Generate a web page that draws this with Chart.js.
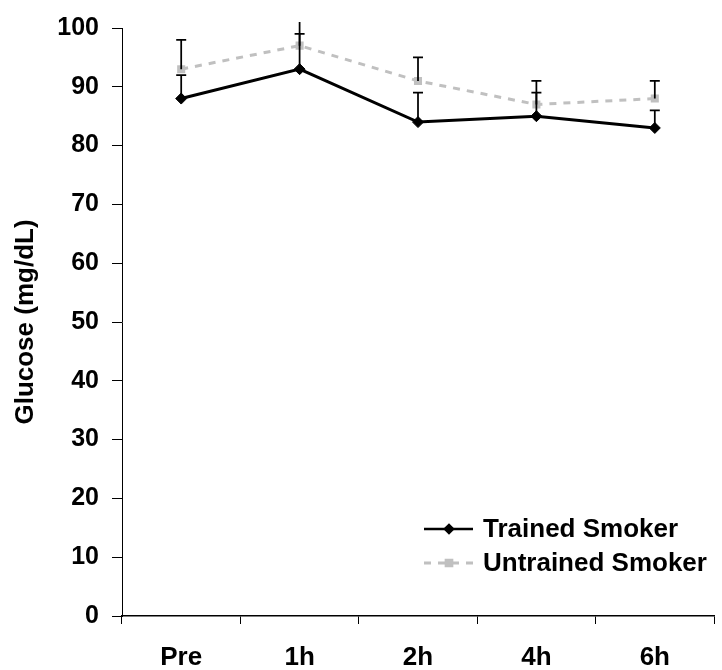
<!DOCTYPE html>
<html lang="en">
<head>
  <meta charset="UTF-8" />
  <title>Glucose</title>
  <script src="https://cdn.jsdelivr.net/npm/chart.js"></script>
  <style>
    body { margin: 0; background: #fff; }
  </style>
</head>
<body>
  <canvas id="chart" width="722" height="670"></canvas>

  <script>
    const labels = ['Pre', '1h', '2h', '4h', '6h'];
    const trained = [88, 93, 84, 85, 83];
    const untrained = [93, 97, 91, 87, 88];
    // upper error bars only
    const trainedErr = [4, 6, 5, 4, 3];
    const untrainedErr = [5, 5, 4, 4, 3];
    const yTicks = [0, 10, 20, 30, 40, 50, 60, 70, 80, 90, 100];

    const fontFamily = '"Liberation Sans", Arial, sans-serif';

    const errorBars = {
      id: 'errorBars',
      afterDatasetsDraw(chart) {
        const ctx = chart.ctx;
        const x = chart.scales.x;
        const y = chart.scales.y;
        const area = chart.chartArea;
        const errs = [trainedErr, untrainedErr];
        ctx.save();
        ctx.beginPath();
        ctx.rect(area.left, area.top - 6, area.right - area.left, area.bottom - area.top + 6);
        ctx.clip();
        ctx.strokeStyle = '#000';
        ctx.lineWidth = 1.75;
        chart.data.datasets.forEach((ds, i) => {
          ds.data.forEach((v, j) => {
            const px = x.getPixelForValue(j);
            const y0 = y.getPixelForValue(v);
            const y1 = y.getPixelForValue(v + errs[i][j]);
            ctx.beginPath();
            ctx.moveTo(px, y0);
            ctx.lineTo(px, y1);
            ctx.moveTo(px - 5, y1);
            ctx.lineTo(px + 5, y1);
            ctx.stroke();
          });
        });
        ctx.restore();
      }
    };

    const innerLegend = {
      id: 'innerLegend',
      afterDraw(chart) {
        const ctx = chart.ctx;
        const left = 424, lineLen = 49, textX = 483;
        const rows = [529, 563];
        ctx.save();
        chart.data.datasets.forEach((ds, i) => {
          const yy = rows[i];
          ctx.strokeStyle = ds.borderColor;
          ctx.lineWidth = i === 0 ? 2.5 : 3;
          ctx.setLineDash(ds.borderDash || []);
          ctx.beginPath();
          ctx.moveTo(left, yy);
          ctx.lineTo(left + lineLen, yy);
          ctx.stroke();
          ctx.setLineDash([]);
          ctx.fillStyle = ds.pointBackgroundColor;
          ctx.strokeStyle = ds.pointBorderColor;
          Chart.helpers.drawPoint(ctx, {
            pointStyle: ds.pointStyle,
            radius: 4,
            borderWidth: 1
          }, left + 25, yy);
          ctx.fillStyle = '#000';
          ctx.font = 'bold 26px ' + fontFamily;
          ctx.textBaseline = 'middle';
          ctx.textAlign = 'left';
          ctx.fillText(ds.label, textX, yy + 1);
        });
        ctx.restore();
      }
    };

    new Chart(document.getElementById('chart'), {
      type: 'line',
      data: {
        labels: labels,
        datasets: [
          {
            label: 'Trained Smoker',
            data: trained,
            borderColor: '#000',
            borderWidth: 3,
            pointStyle: 'rectRot',
            pointRadius: 5.5,
            pointBorderWidth: 1,
            pointBackgroundColor: '#000',
            pointBorderColor: '#000',
            tension: 0
          },
          {
            label: 'Untrained Smoker',
            data: untrained,
            borderColor: '#c0c0c0',
            borderWidth: 3,
            borderDash: [7, 7],
            pointStyle: 'rect',
            pointRadius: 5.7,
            pointBorderWidth: 0,
            pointBackgroundColor: '#c0c0c0',
            pointBorderColor: '#c0c0c0',
            tension: 0
          }
        ]
      },
      options: {
        responsive: false,
        animation: false,
        layout: { padding: { top: 26, right: 8, left: 0, bottom: 0 } },
        plugins: {
          legend: { display: false },
          tooltip: { enabled: false }
        },
        scales: {
          x: {
            offset: true,
            grid: { offset: true, drawOnChartArea: false, color: '#000', tickLength: 8 },
            border: { color: '#000', width: 1.5 },
            ticks: {
              color: '#000',
              padding: 18,
              font: { family: fontFamily, size: 26, weight: 'bold' }
            },
            afterFit(scale) { scale.height = 54; }
          },
          y: {
            min: 0,
            max: 100,
            afterBuildTicks(scale) { scale.ticks = yTicks.map(v => ({ value: v })); },
            grid: { drawOnChartArea: false, color: '#000', tickLength: 10 },
            border: { color: '#000', width: 1 },
            ticks: {
              color: '#000',
              padding: 13,
              font: { family: fontFamily, size: 25, weight: 'bold' }
            },
            title: {
              display: true,
              text: 'Glucose (mg/dL)',
              color: '#000',
              padding: { top: 10, bottom: 0 },
              font: { family: fontFamily, size: 26, weight: 'bold' }
            },
            afterFit(scale) { scale.width = 122; }
          }
        }
      },
      plugins: [errorBars, innerLegend]
    });
  </script>
</body>
</html>
